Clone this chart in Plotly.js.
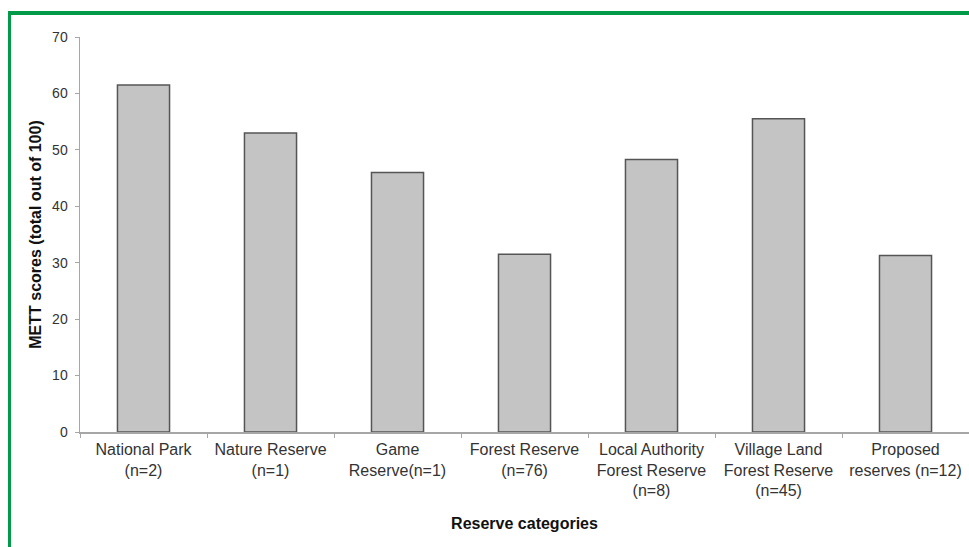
<!DOCTYPE html>
<html>
<head>
<meta charset="utf-8">
<script src="https://cdn.plot.ly/plotly-3.0.1.min.js"></script>
<style>
  html, body { margin: 0; padding: 0; background: #fff; }
  #chart { position: absolute; left: 0; top: 0; width: 969px; height: 547px; }
  .frame-top { position: absolute; left: 8px; top: 11px; width: 961px; height: 4px; background: #009a48; pointer-events: none; }
  .frame-left { position: absolute; left: 8px; top: 11px; width: 3px; height: 536px; background: #009a48; pointer-events: none; }
</style>
</head>
<body>
<div id="chart"></div>
<div class="frame-top"></div>
<div class="frame-left"></div>
<script>
const categories = [
  "National Park<br>(n=2)",
  "Nature Reserve<br>(n=1)",
  "Game<br>Reserve(n=1)",
  "Forest Reserve<br>(n=76)",
  "Local Authority<br>Forest Reserve<br>(n=8)",
  "Village Land<br>Forest Reserve<br>(n=45)",
  "Proposed<br>reserves (n=12)"
];
const mettScores = [61.5, 53.0, 46.0, 31.5, 48.3, 55.5, 31.3];
const yTicks = [0, 10, 20, 30, 40, 50, 60, 70];

const trace = {
  type: "bar",
  x: categories,
  y: mettScores,
  marker: { color: "#c4c4c4", line: { color: "#555555", width: 1.5 } },
  hoverinfo: "skip"
};

const layout = {
  width: 969,
  height: 547,
  margin: { l: 80, r: 0, t: 37, b: 115 },
  paper_bgcolor: "#ffffff",
  plot_bgcolor: "#ffffff",
  bargap: 0.59,
  showlegend: false,
  font: { family: "Liberation Sans, Arial, sans-serif", color: "#333333" },
  xaxis: {
    type: "category",
    showline: true,
    linecolor: "#a6a6a6",
    linewidth: 1.5,
    ticks: "outside",
    tickson: "boundaries",
    ticklen: 4,
    tickcolor: "#a6a6a6",
    ticklabelstandoff: 2,
    tickfont: { size: 16, color: "#333333" },
    showgrid: false,
    zeroline: false,
    automargin: false,
    title: { text: "Reserve categories", font: { size: 16, color: "#111111", weight: "bold" }, standoff: 19 }
  },
  yaxis: {
    range: [0, 70],
    tickvals: yTicks,
    showline: true,
    linecolor: "#a6a6a6",
    linewidth: 1.5,
    ticks: "outside",
    ticklen: 4,
    tickcolor: "#a6a6a6",
    ticklabelstandoff: 4,
    tickfont: { size: 14, color: "#333333" },
    showgrid: false,
    zeroline: false,
    automargin: false,
    title: { text: "METT scores (total out of 100)", font: { size: 16, color: "#111111", weight: "bold" }, standoff: 6 }
  }
};

Plotly.newPlot("chart", [trace], layout, { staticPlot: true, displayModeBar: false });
</script>
</body>
</html>
